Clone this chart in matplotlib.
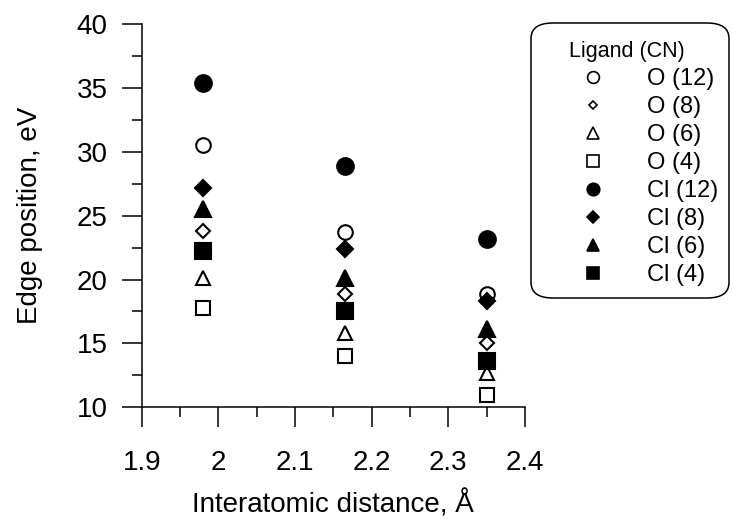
import matplotlib.pyplot as plt
from matplotlib.lines import Line2D
from matplotlib.patches import FancyBboxPatch

plt.rcParams['font.family'] = ['Liberation Sans', 'DejaVu Sans']

# interatomic distance (A) for the three columns of points
distance = [1.98, 2.165, 2.35]

# edge position (eV) per ligand / coordination number
o12 = [30.5, 23.7, 18.9]
o8 = [23.8, 18.9, 15.0]
o6 = [20.1, 15.8, 12.7]
o4 = [17.8, 14.0, 11.0]
cl12 = [35.4, 28.9, 23.2]
cl8 = [27.2, 22.4, 18.3]
cl6 = [25.5, 20.1, 16.1]
cl4 = [22.2, 17.5, 13.6]

labels = ['O (12)', 'O (8)', 'O (6)', 'O (4)',
          'Cl (12)', 'Cl (8)', 'Cl (6)', 'Cl (4)']
xticks = [1.9, 2, 2.1, 2.2, 2.3, 2.4]
xticklabels = ['1.9', '2', '2.1', '2.2', '2.3', '2.4']
yticks = [10, 15, 20, 25, 30, 35, 40]

fig = plt.figure(figsize=(7.33, 5.19), dpi=100)
ax = fig.add_axes([0.1933, 0.2152, 0.5229, 0.7386])

# (values, marker, filled, size in plot, size in legend)
series = [
    (o12, 'o', False, 10.5, 8.5),
    (o8, 'D', False, 7.5, 4.5),
    (o6, '^', False, 10, 8.5),
    (o4, 's', False, 10.5, 8),
    (cl12, 'o', True, 12, 9),
    (cl8, 'D', True, 8, 6.5),
    (cl6, '^', True, 11, 8.5),
    (cl4, 's', True, 11, 8),
]

handles = []
for (vals, mk, filled, ms, lms), lab in zip(series, labels):
    fc = 'black' if filled else 'white'
    ax.plot(distance, vals, linestyle='none', marker=mk, ms=ms,
            mfc=fc, mec='black', mew=1.5, clip_on=False)
    handles.append(Line2D([], [], linestyle='none', marker=mk, ms=lms,
                          mfc=fc, mec='black', mew=1.2, label=lab))

ax.set_xlim(1.9, 2.4)
ax.set_ylim(10, 40)
ax.set_xticks(xticks)
ax.set_xticklabels(xticklabels)
ax.set_yticks(yticks)
ax.set_xticks([1.95, 2.05, 2.15, 2.25, 2.35], minor=True)
ax.set_yticks([12.5, 17.5, 22.5, 27.5, 32.5, 37.5], minor=True)

for s in ['top', 'right']:
    ax.spines[s].set_visible(False)
for s in ['left', 'bottom']:
    ax.spines[s].set_linewidth(1.1)

ax.tick_params(axis='both', which='major', direction='out', length=14.4,
               width=1.1, labelsize=20)
ax.tick_params(axis='both', which='minor', direction='out', length=7.2,
               width=1.1)
ax.tick_params(axis='x', which='major', pad=16)
ax.tick_params(axis='y', which='major', pad=10)

ax.set_xlabel('Interatomic distance, Å', fontsize=20)
ax.set_ylabel('Edge position, eV', fontsize=20)
ax.xaxis.set_label_coords(0.5, -0.252)
ax.xaxis.label.set_va('center')
ax.yaxis.set_label_coords(-0.291, 0.5)
ax.yaxis.label.set_va('center')

# legend frame drawn separately (rounded box running to the right edge)
frame = FancyBboxPatch((531 / 733, 1 - 298 / 519), 198 / 733, 275 / 519,
                       boxstyle='round,pad=0,rounding_size=0.03',
                       transform=fig.transFigure, facecolor='white',
                       edgecolor='black', linewidth=1.1, zorder=0)
fig.patches.append(frame)

leg = fig.legend(handles=handles, title='Ligand (CN)', frameon=False,
                 loc='upper left', bbox_to_anchor=(569 / 733, 1 - 41 / 519),
                 borderpad=0, borderaxespad=0, fontsize=17,
                 title_fontsize=15.5, handlelength=2, handletextpad=1.32,
                 labelspacing=0.255, alignment='left')

fig.savefig('out.png', dpi=100)
